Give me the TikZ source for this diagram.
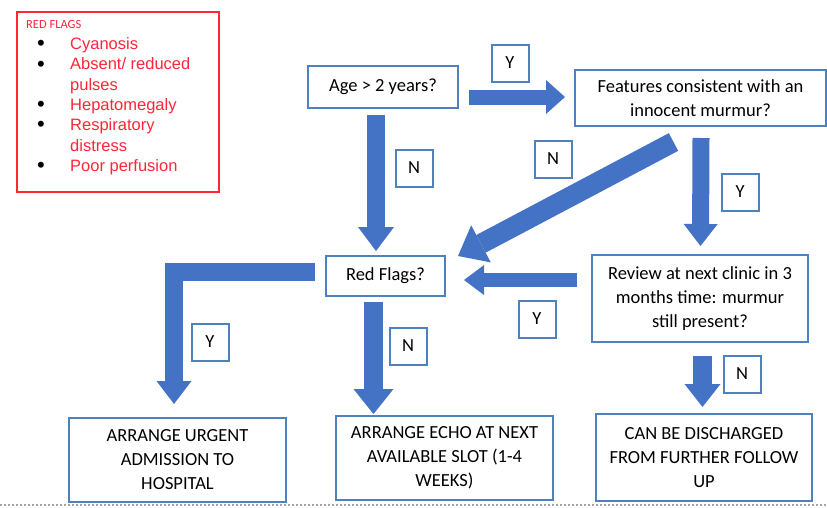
\documentclass[tikz,border=0pt]{standalone}
\usepackage{fontspec}
\setmainfont{Carlito}
\newfontfamily\arialfont{Liberation Sans}
\usepackage{array}
\usetikzlibrary{arrows.meta, positioning}

\definecolor{boxblue}{RGB}{79,129,189}
\definecolor{arrowblue}{RGB}{68,114,196}
\definecolor{flagred}{RGB}{255,38,56}
\newcommand{\flagdot}{\raisebox{-1.2pt}{\fontsize{22}{20}\selectfont\textbullet}}

\begin{document}
\begin{tikzpicture}[
  x=1pt, y=-1pt,
  stepbox/.style={draw=boxblue, line width=2pt, fill=white, align=center, inner sep=0pt, font=\fontsize{18.5}{24}\selectfont},
  answer/.style={draw=boxblue, line width=2pt, minimum size=37pt, inner sep=0pt, font=\fontsize{18.5}{22}\selectfont},
  flagbox/.style={draw=flagred, line width=1.5pt, minimum width=202pt, minimum height=180pt},
  block/.style n args={3}{draw=arrowblue, line width=#1, line join=miter, -{Triangle[width=#2, length=#3, line width=0pt]}}
  ]

  \useasboundingbox (0,0) rectangle (827,507);

  % Red flags box in the corner
  \node[flagbox] (flags) at (118,102) {};
  \node[anchor=base west, inner sep=0pt, text=flagred, font=\fontsize{12.5}{15}\selectfont] (flagtitle) at (26,28.5) {RED FLAGS};
  \node[anchor=base west, inner sep=0pt, font=\arialfont\fontsize{16.5}{20.3}\selectfont] (flaglist) at (37,49.5) {%
    \begin{tabular}[t]{@{}p{33pt}@{}>{\color{flagred}}l@{}}
      \flagdot & Cyanosis\\
      \flagdot & Absent/ reduced\\
               & pulses\\
      \flagdot & Hepatomegaly\\
      \flagdot & Respiratory\\
               & distress\\
      \flagdot & Poor perfusion
    \end{tabular}};

  % Question and outcome boxes
  \node[stepbox, minimum width=150pt, minimum height=42pt] (age) at (383,87) {Age > 2 years?};
  \node[stepbox, minimum width=251pt, minimum height=56pt] (feat) at (700.5,98) {Features consistent with an\\innocent murmur?};
  \node[stepbox, minimum width=119pt, minimum height=40pt] (red) at (385.5,276) {Red Flags?};
  \node[stepbox, minimum width=216pt, minimum height=87pt] (review) at (700,298.5) {Review at next clinic in 3\\months time: murmur\\still present?};
  \node[stepbox, minimum width=217pt, minimum height=84pt] (urgent) at (177.5,460) {ARRANGE URGENT\\ADMISSION TO\\HOSPITAL};
  \node[stepbox, minimum width=217pt, minimum height=84pt] (echo) at (444.5,458) {ARRANGE ECHO AT NEXT\\AVAILABLE SLOT (1-4\\WEEKS)};
  \node[stepbox, minimum width=216pt, minimum height=87pt] (disch) at (704,457.5) {CAN BE DISCHARGED\\FROM FURTHER FOLLOW\\UP};

  % Block arrows between the boxes
  \draw[block={15pt}{34pt}{19pt}] ([xshift=10pt,yshift=-10pt]age.east) -- ([xshift=-9pt,yshift=1pt]feat.west);
  \draw[block={18pt}{36pt}{24pt}] ([xshift=-7pt,yshift=-6pt]age.south) -- ([xshift=-9.5pt,yshift=4pt]red.north);
  \draw[block={20pt}{42pt}{26pt}] ([xshift=-27pt,yshift=-15pt]feat.south) -- ([xshift=12pt,yshift=-1pt]red.north east);
  \draw[block={17pt}{34pt}{22pt}] ([xshift=0.5pt,yshift=-11pt]feat.south) -- ([xshift=0.5pt,yshift=8pt]review.north);
  \draw[block={14pt}{30pt}{20pt}] ([xshift=-14pt,yshift=18.5pt]review.west) -- ([xshift=18pt,yshift=-4pt]red.east);
  \draw[block={18pt}{35pt}{23pt}] ([xshift=-10pt,yshift=4pt]red.west) -| ([xshift=-3.5pt,yshift=13pt]urgent.north);
  \draw[block={19pt}{40pt}{25pt}] ([xshift=-12pt,yshift=-5pt]red.south) -- ([xshift=-71pt,yshift=1pt]echo.north);
  \draw[block={19pt}{36pt}{23pt}] ([xshift=2.5pt,yshift=-12.5pt]review.south) -- ([xshift=-1.5pt,yshift=6pt]disch.north);

  % Y / N labels
  \node[answer] (y1) at (510,63) {Y};
  \node[answer] (n1) at (414,168) {N};
  \node[answer] (n2) at (553,159) {N};
  \node[answer] (y2) at (740,192) {Y};
  \node[answer] (y3) at (537,319) {Y};
  \node[answer] (y4) at (210,342) {Y};
  \node[answer] (n3) at (408,346) {N};
  \node[answer] (n4) at (742,374) {N};

  % page edge
  \draw[black!35, dash pattern=on 2pt off 2pt, line width=2pt] (0,505) -- (827,505);

\end{tikzpicture}
\end{document}
